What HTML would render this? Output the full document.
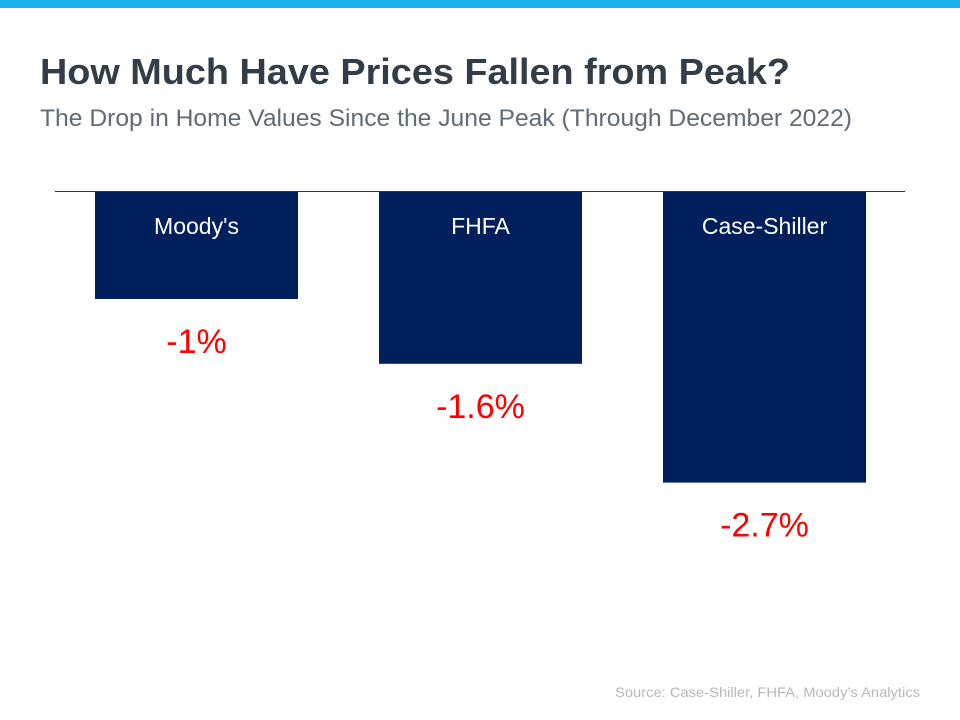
<!DOCTYPE html>
<html><head><meta charset="utf-8"><style>
html,body{margin:0;padding:0;background:#fff;}
svg{display:block;font-family:"Liberation Sans",sans-serif;}
</style></head><body>
<svg id="chart" width="960" height="720" viewBox="0 0 960 720">
<rect x="0" y="0" width="960" height="8" fill="#1cb0ee"/>
<text x="40" y="84" font-size="36" font-weight="bold" fill="#333d47" textLength="750" lengthAdjust="spacingAndGlyphs">How Much Have Prices Fallen from Peak?</text>
<text x="40" y="126" font-size="24" fill="#5f6b77" textLength="812" lengthAdjust="spacingAndGlyphs">The Drop in Home Values Since the June Peak (Through December 2022)</text>
<g id="bars"></g>
<line x1="55" y1="191.5" x2="905" y2="191.5" stroke="#333" stroke-width="1"/>
<text x="920" y="697" font-size="14" fill="#b8b8b8" text-anchor="end" textLength="305" lengthAdjust="spacingAndGlyphs">Source: Case-Shiller, FHFA, Moody’s Analytics</text>
</svg>
<script>
const categories = ["Moody's", "FHFA", "Case-Shiller"];
const values = [-1, -1.6, -2.7];
const valueLabels = ["-1%", "-1.6%", "-2.7%"];

const ns = "http://www.w3.org/2000/svg";
const zeroY = 191;
const pxPerUnit = 108;
const yScale = v => zeroY - v * pxPerUnit;
const bandStart = 95, bandStep = 284, barW = 203;
const xScale = i => bandStart + i * bandStep;
const g = document.getElementById('bars');
categories.forEach((c, i) => {
  const x = xScale(i);
  const yb = yScale(values[i]);
  const r = document.createElementNS(ns, 'rect');
  r.setAttribute('x', x); r.setAttribute('y', zeroY);
  r.setAttribute('width', barW); r.setAttribute('height', yb - zeroY);
  r.setAttribute('fill', '#011f5b');
  
  
  g.appendChild(r);
  const t = document.createElementNS(ns, 'text');
  t.setAttribute('x', x + barW / 2); t.setAttribute('y', 234);
  t.setAttribute('text-anchor', 'middle'); t.setAttribute('font-size', '23');
  t.setAttribute('fill', '#ffffff');
  t.textContent = c;
  
  
  g.appendChild(t);
  const v = document.createElementNS(ns, 'text');
  v.setAttribute('x', x + barW / 2); v.setAttribute('y', yb + 54);
  v.setAttribute('text-anchor', 'middle'); v.setAttribute('font-size', '34');
  v.setAttribute('fill', '#ff0000');
  v.textContent = valueLabels[i];
  
  
  g.appendChild(v);
});
</script>
</body></html>
